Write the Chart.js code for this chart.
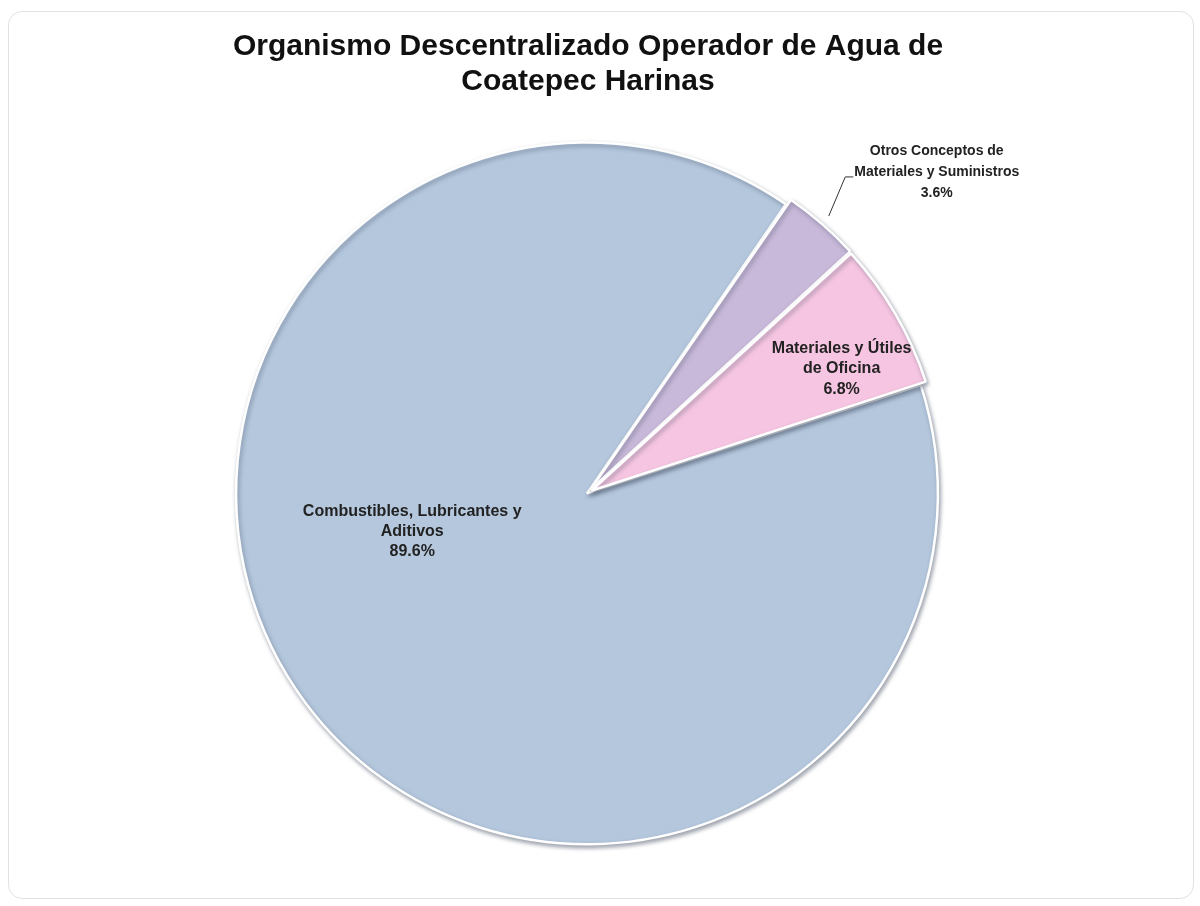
<!DOCTYPE html>
<html>
<head>
<meta charset="utf-8">
<script src="https://cdn.jsdelivr.net/npm/chart.js@4/dist/chart.umd.min.js"></script>
<style>
  html, body { margin: 0; padding: 0; background: #fff; }
  #card {
    position: absolute; left: 8px; top: 11px; width: 1186px; height: 888px;
    border: 1px solid #e2e2e2; border-radius: 14px; box-sizing: border-box;
  }
  #wrap { position: absolute; left: 0; top: 0; width: 1200px; height: 906px; }
</style>
</head>
<body>
<div id="card"></div>
<div id="wrap"><canvas id="pie" width="1200" height="906"></canvas></div>
<script>
  // ---------- data ----------
  const titleLines = ["Organismo Descentralizado Operador de Agua de", "Coatepec Harinas"];
  const categories = [
    ["Combustibles, Lubricantes y", "Aditivos"],
    ["Otros Conceptos de", "Materiales y Suministros"],
    ["Materiales y Útiles", "de Oficina"],
  ];
  const shares = [89.6, 3.6, 6.8];
  const sliceColors = ["#b4c7dd", "#c8b8d9", "#f6c5e1"];
  const explode = [5, 15, 15];

  // where each label sits: angle (deg, canvas) and distance as fraction of radius
  const labelPlace = [
    { angle: 167.5, dist: 0.515, size: 16, lh: 1.25, leader: false },
    { angle: -42.6, dist: 1.355, size: 14, lh: 1.5, leader: true },
    { angle: -26.0, dist: 0.807, size: 16, lh: 1.3, leader: false },
  ];

  // ---------- helpers ----------
  const rad = (d) => (d * Math.PI) / 180;

  // soft grey edge under the slices
  const shadowPlugin = {
    id: "sliceShadow",
    beforeDatasetDraw(chart) {
      const ctx = chart.ctx;
      ctx.save();
      ctx.shadowColor = "rgba(70,80,100,0.5)";
      ctx.shadowBlur = 4;
      ctx.shadowOffsetX = 1.5;
      ctx.shadowOffsetY = 2.5;
    },
    afterDatasetDraw(chart) {
      chart.ctx.restore();
    },
  };

  // data labels drawn by hand (no datalabels plugin offline)
  const labelPlugin = {
    id: "sliceLabels",
    afterDatasetsDraw(chart) {
      const ctx = chart.ctx;
      const meta = chart.getDatasetMeta(0);
      meta.data.forEach((arc, i) => {
        const p = arc.getProps(["x", "y", "startAngle", "endAngle", "outerRadius"], true);
        const place = labelPlace[i];
        const cx = p.x + Math.cos(rad(place.angle)) * p.outerRadius * place.dist;
        const cy = p.y + Math.sin(rad(place.angle)) * p.outerRadius * place.dist;
        const lines = [...categories[i], shares[i].toFixed(1) + "%"];
        const lh = place.size * place.lh;
        ctx.save();
        ctx.font = `bold ${place.size}px "Liberation Sans", Arial, sans-serif`;
        ctx.fillStyle = "#222";
        ctx.textAlign = "center";
        ctx.textBaseline = "middle";
        const top = cy - ((lines.length - 1) * lh) / 2;
        lines.forEach((t, k) => ctx.fillText(t, cx, top + k * lh));

        if (place.leader) {
          const mid = (p.startAngle + p.endAngle) / 2;
          const r = p.outerRadius + explode[i] + 2;
          const ex = p.x + Math.cos(mid) * r;
          const ey = p.y + Math.sin(mid) * r;
          const w = ctx.measureText(lines[1]).width;
          const hx = cx - w / 2 - 1;
          const hy = top + lh + 5;
          ctx.strokeStyle = "#333";
          ctx.lineWidth = 1;
          ctx.beginPath();
          ctx.moveTo(hx, hy);
          ctx.lineTo(hx - 8, hy);
          ctx.lineTo(ex, ey);
          ctx.stroke();
        }
        ctx.restore();
      });
    },
  };

  new Chart(document.getElementById("pie"), {
    type: "pie",
    data: {
      labels: categories.map((c) => c.join(" ")),
      datasets: [
        {
          data: shares,
          backgroundColor: sliceColors,
          borderColor: "#ffffff",
          borderWidth: 2.5,
          offset: explode,
          hoverOffset: 0,
        },
      ],
    },
    options: {
      responsive: false,
      animation: false,
      rotation: 72,
      layout: { padding: { top: 0, bottom: 55, left: 0, right: 24 } },
      plugins: {
        legend: { display: false },
        tooltip: { enabled: false },
        title: {
          display: true,
          text: titleLines,
          color: "#111",
          font: { family: '"Liberation Sans", Arial, sans-serif', size: 30, weight: "bold", lineHeight: 1.17 },
          padding: { top: 29, bottom: 35 },
        },
      },
    },
    plugins: [shadowPlugin, labelPlugin],
  });
</script>
</body>
</html>
